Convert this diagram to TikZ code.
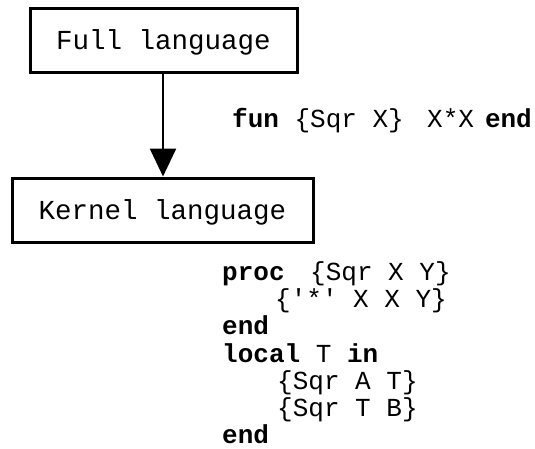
\documentclass[tikz,border=0pt]{standalone}
\usepackage{fontspec}
\setmonofont{Liberation Mono}
\usetikzlibrary{arrows.meta}
\begin{document}
\begin{tikzpicture}[x=1pt,y=-1pt,
  langbox/.style={draw=black,line width=3pt,minimum width=#1,minimum height=64pt,
    inner sep=0pt,text depth=0pt,font=\ttfamily\fontsize{27.5pt}{30pt}\selectfont},
  codeline/.style={anchor=base west,inner sep=0pt,
    font=\ttfamily\fontsize{26pt}{28pt}\selectfont}]
\useasboundingbox (0,0) rectangle (535,448);
\node[langbox=267pt] (full) at (163.5,40) {Full language};
\node[langbox=301pt] (kernel) at (162.5,210) {Kernel language};
\draw[line width=2.5pt,-{Triangle[length=28pt,width=26pt]}]
  (full.south -| 163,0) -- (kernel.north -| 163,0);
\node[codeline] (funline) at (232,127)
  {\textbf{fun} \{Sqr X\}\hspace{23.4pt}X*X\hspace{11pt}\textbf{end}};
\node[codeline] (c1) at (222,280) {\textbf{proc}\hspace{25.6pt}\{Sqr X Y\}};
\node[codeline] (c2) at (275,307) {\{'*' X X Y\}};
\node[codeline] (c3) at (222,334) {\textbf{end}};
\node[codeline] (c4) at (222,362) {\textbf{local} T \textbf{in}};
\node[codeline] (c5) at (277,389) {\{Sqr A T\}};
\node[codeline] (c6) at (277,416) {\{Sqr T B\}};
\node[codeline] (c7) at (222,443) {\textbf{end}};
\end{tikzpicture}
\end{document}
